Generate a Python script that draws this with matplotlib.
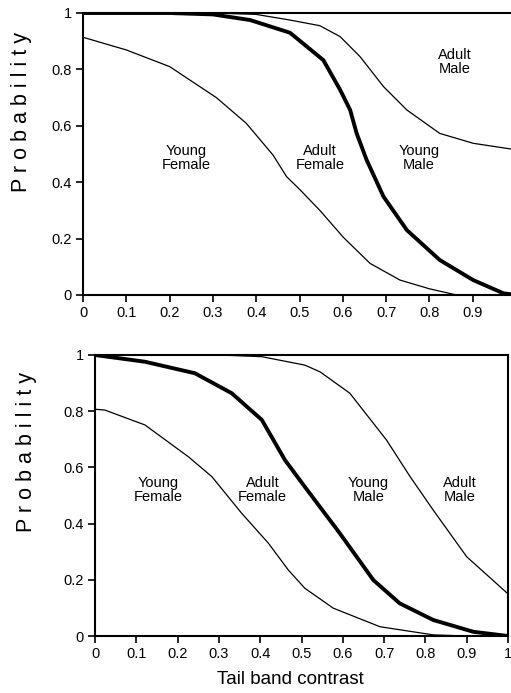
import matplotlib.pyplot as plt
from matplotlib.ticker import FuncFormatter

plt.rcParams['font.family'] = ['Liberation Sans', 'DejaVu Sans']

# top panel
top_yf_x = [0, 0.10, 0.20, 0.308, 0.377, 0.439, 0.47, 0.50, 0.547, 0.601, 0.663, 0.732, 0.80, 0.863, 1.0]
top_yf_y = [0.914, 0.869, 0.81, 0.70, 0.609, 0.496, 0.42, 0.375, 0.30, 0.205, 0.112, 0.053, 0.022, 0.0, 0.0]

top_af_x = [0, 0.2, 0.3, 0.386, 0.478, 0.555, 0.594, 0.617, 0.632, 0.655, 0.694, 0.748, 0.824, 0.901, 0.971, 1.0]
top_af_y = [1.0, 1.0, 0.995, 0.975, 0.93, 0.833, 0.727, 0.656, 0.573, 0.479, 0.349, 0.23, 0.124, 0.053, 0.006, 0.0]

top_ym_x = [0, 0.3, 0.4, 0.478, 0.547, 0.594, 0.64, 0.694, 0.748, 0.824, 0.901, 1.0]
top_ym_y = [1.0, 1.0, 0.995, 0.975, 0.955, 0.916, 0.845, 0.739, 0.656, 0.573, 0.538, 0.515]

# bottom panel
bot_yf_x = [0, 0.024, 0.121, 0.226, 0.283, 0.355, 0.42, 0.468, 0.508, 0.577, 0.69, 0.819, 0.9, 1.0]
bot_yf_y = [0.807, 0.804, 0.751, 0.638, 0.567, 0.437, 0.33, 0.235, 0.17, 0.099, 0.033, 0.004, 0.0, 0.0]

bot_af_x = [0, 0.121, 0.242, 0.331, 0.404, 0.46, 0.508, 0.593, 0.674, 0.738, 0.819, 0.916, 1.0]
bot_af_y = [1.0, 0.976, 0.935, 0.864, 0.769, 0.626, 0.531, 0.365, 0.199, 0.116, 0.057, 0.015, 0.0]

bot_ym_x = [0, 0.3, 0.404, 0.508, 0.545, 0.617, 0.706, 0.763, 0.819, 0.90, 1.0]
bot_ym_y = [1.0, 1.0, 0.994, 0.964, 0.94, 0.864, 0.697, 0.567, 0.448, 0.282, 0.15]

xticks = [0, 0.1, 0.2, 0.3, 0.4, 0.5, 0.6, 0.7, 0.8, 0.9, 1.0]
yticks = [0, 0.2, 0.4, 0.6, 0.8, 1.0]

top_labels = [("Young\nFemale", 0.239, 0.485), ("Adult\nFemale", 0.547, 0.485),
              ("Young\nMale", 0.776, 0.485), ("Adult\nMale", 0.859, 0.825)]
bot_labels = [("Young\nFemale", 0.153, 0.52), ("Adult\nFemale", 0.406, 0.52),
              ("Young\nMale", 0.662, 0.52), ("Adult\nMale", 0.884, 0.52)]


def fmt(v, pos):
    if abs(v) < 1e-9:
        return "0"
    if abs(v - 1) < 1e-9:
        return "1"
    return "%.1f" % v


def setup(ax, curves, labels):
    yf, af, ym = curves
    ax.plot(yf[0], yf[1], color="black", lw=0.9)
    ax.plot(af[0], af[1], color="black", lw=2.8)
    ax.plot(ym[0], ym[1], color="black", lw=0.9)
    for txt, x, y in labels:
        ax.text(x, y, txt, ha="center", va="center", fontsize=10.5, linespacing=1.0)
    ax.set_xlim(0, 1)
    ax.set_ylim(0, 1)
    ax.set_xticks(xticks)
    ax.set_yticks(yticks)
    ax.xaxis.set_major_formatter(FuncFormatter(fmt))
    ax.yaxis.set_major_formatter(FuncFormatter(fmt))
    ax.tick_params(direction="out", length=5, width=1.2, labelsize=10.5, pad=3)
    for s in ax.spines.values():
        s.set_linewidth(1.5)


fig = plt.figure(figsize=(5.11, 6.93), dpi=100)
ax1 = fig.add_axes([83 / 511, 1 - 295 / 693, 433 / 511, 282 / 693])
ax2 = fig.add_axes([95 / 511, 1 - 636 / 693, 413 / 511, 281 / 693])

setup(ax1, [(top_yf_x, top_yf_y), (top_af_x, top_af_y), (top_ym_x, top_ym_y)], top_labels)
setup(ax2, [(bot_yf_x, bot_yf_y), (bot_af_x, bot_af_y), (bot_ym_x, bot_ym_y)], bot_labels)

# y labels and x label placed in figure pixels
fig.text(22 / 511, 1 - 112 / 693, "P r o b a b i l i t y", rotation=90,
         ha="center", va="center", fontsize=15.5)
fig.text(27 / 511, 1 - 452 / 693, "P r o b a b i l i t y", rotation=90,
         ha="center", va="center", fontsize=15.5)
fig.text(290 / 511, 1 - 680 / 693, "Tail band contrast", ha="center", va="center", fontsize=13.5)

fig.savefig("out.png", dpi=100)
